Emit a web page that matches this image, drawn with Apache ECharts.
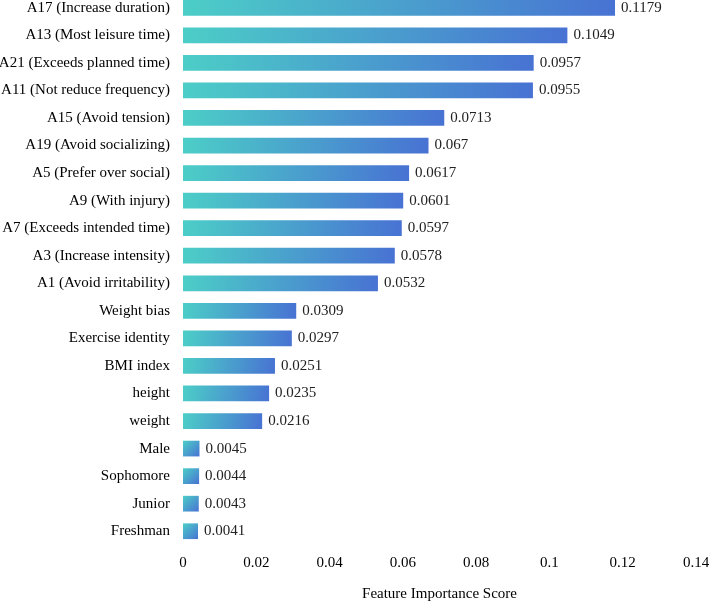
<!DOCTYPE html>
<html>
<head>
<meta charset="utf-8">
<script src="https://cdn.jsdelivr.net/npm/echarts@6/dist/echarts.min.js"></script>
<style>
  html, body { margin: 0; padding: 0; background: #fff; }
  #chart { width: 710px; height: 602px; }
</style>
</head>
<body>
<div id="chart"></div>
<script>
// features listed top to bottom
var features = [
  'A17 (Increase duration)', 'A13 (Most leisure time)', 'A21 (Exceeds planned time)',
  'A11 (Not reduce frequency)', 'A15 (Avoid tension)', 'A19 (Avoid socializing)',
  'A5 (Prefer over social)', 'A9 (With injury)', 'A7 (Exceeds intended time)',
  'A3 (Increase intensity)', 'A1 (Avoid irritability)', 'Weight bias',
  'Exercise identity', 'BMI index', 'height', 'weight',
  'Male', 'Sophomore', 'Junior', 'Freshman'
];
var scores = [
  0.1179, 0.1049, 0.0957, 0.0955, 0.0713, 0.067, 0.0617, 0.0601, 0.0597,
  0.0578, 0.0532, 0.0309, 0.0297, 0.0251, 0.0235, 0.0216,
  0.0045, 0.0044, 0.0043, 0.0041
];
var xTicks = [0, 0.02, 0.04, 0.06, 0.08, 0.1, 0.12, 0.14];

var font = '"Liberation Serif", "Times New Roman", serif';
var chart = echarts.init(document.getElementById('chart'));

chart.setOption({
  animation: false,
  textStyle: { fontFamily: font },
  grid: {
    left: 183, right: 14, top: -6, bottom: 57,
    containLabel: false,
    outerBoundsMode: 'none'
  },
  xAxis: {
    type: 'value',
    min: xTicks[0],
    max: xTicks[xTicks.length - 1],
    interval: 0.02,
    name: 'Feature Importance Score',
    nameLocation: 'middle',
    nameGap: 42,
    nameTextStyle: { fontFamily: font, fontSize: 15, color: '#000' },
    axisLine: { show: false },
    axisTick: { show: false },
    splitLine: { show: false },
    axisLabel: {
      fontFamily: font, fontSize: 15, color: '#000', margin: 11,
      formatter: function (v) { return String(Number(v.toFixed(2))); }
    }
  },
  yAxis: {
    type: 'category',
    data: features,
    inverse: true,
    axisLine: { show: false },
    axisTick: { show: false },
    axisLabel: { fontFamily: font, fontSize: 15, color: '#000', margin: 13 }
  },
  series: [{
    type: 'bar',
    data: scores,
    barWidth: '57%',
    itemStyle: {
      color: new echarts.graphic.LinearGradient(0, 0, 1, 1, [
        { offset: 0, color: '#4CCEC7' },
        { offset: 1, color: '#4872D3' }
      ])
    },
    label: {
      show: true,
      position: 'right',
      distance: 6,
      fontFamily: font,
      fontSize: 15,
      color: '#222',
      formatter: function (p) { return String(p.value); }
    }
  }]
});
</script>
</body>
</html>
